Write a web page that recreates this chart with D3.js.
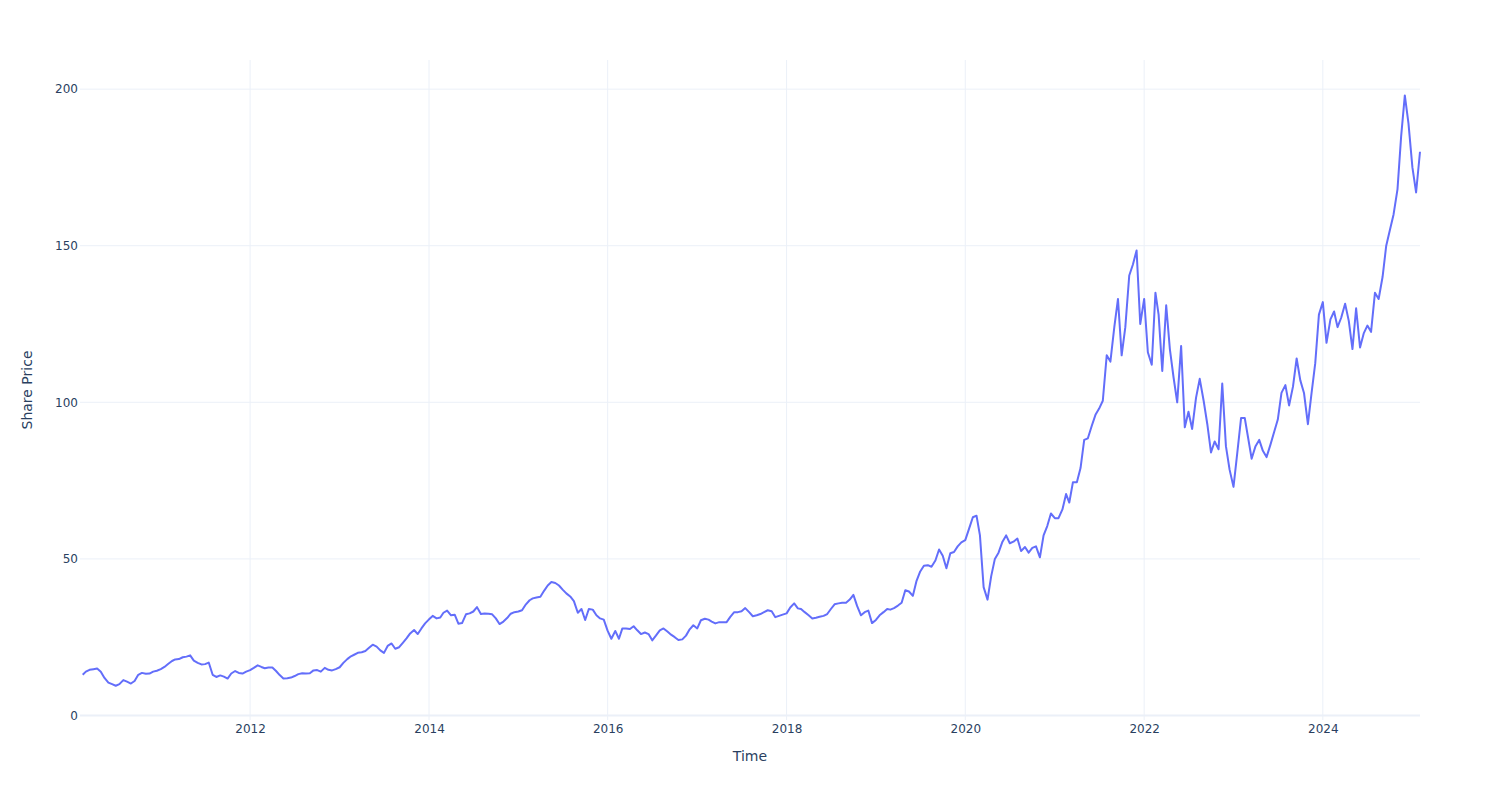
<!DOCTYPE html>
<html>
<head>
	<title>Share Price</title>
<script src="https://d3js.org/d3.v7.min.js" charset="utf-8"></script>
<style>
body { margin: 0; background: #fff; }
</style>
</head>
<body>
<div id="chart"></div>

<script type="text/javascript">
// share price, two readings per month (1st and 16th), one array per year
var years = [2010, 2011, 2012, 2013, 2014, 2015, 2016, 2017, 2018, 2019, 2020, 2021, 2022, 2023, 2024, 2025];
var firstSlot = [3, 0, 0, 0, 0, 0, 0, 0, 0, 0, 0, 0, 0, 0, 0, 0];

var p2010 = [13.0, 14.0, 14.6, 14.8, 15.0, 14.0, 12.0, 10.5, 10.0, 9.5, 10.0, 11.3, 10.8, 10.2, 11.0, 13.0, 13.6, 13.3, 13.4, 14.0, 14.3];
var p2011 = [14.8, 15.5, 16.5, 17.4, 17.9, 18.0, 18.6, 18.8, 19.2, 17.5, 16.8, 16.3, 16.4, 16.9, 13.0, 12.3, 12.8, 12.4, 11.8, 13.4, 14.2, 13.6, 13.4, 14.0];
var p2012 = [14.5, 15.2, 16.0, 15.5, 15.1, 15.3, 15.3, 14.2, 12.9, 11.8, 11.9, 12.1, 12.6, 13.2, 13.5, 13.4, 13.5, 14.4, 14.5, 14.0, 15.2, 14.6, 14.4, 14.8];
var p2013 = [15.4, 16.8, 18.0, 18.9, 19.4, 20.0, 20.2, 20.6, 21.6, 22.6, 22.0, 20.8, 20.0, 22.2, 23.0, 21.3, 21.8, 23.2, 24.6, 26.2, 27.3, 26.0, 27.8, 29.4];
var p2014 = [30.7, 31.8, 31.0, 31.3, 32.8, 33.5, 32.0, 32.2, 29.3, 29.5, 32.3, 32.6, 33.2, 34.6, 32.4, 32.6, 32.5, 32.3, 31.0, 29.2, 30.0, 31.1, 32.5, 33.0];
var p2015 = [33.2, 33.6, 35.5, 36.8, 37.4, 37.7, 37.9, 39.8, 41.5, 42.6, 42.3, 41.5, 40.2, 39.0, 38.0, 36.5, 32.8, 34.0, 30.5, 34.0, 33.8, 32.0, 31.0, 30.6];
var p2016 = [27.0, 24.5, 27.0, 24.5, 27.8, 27.8, 27.6, 28.5, 27.2, 26.0, 26.5, 26.0, 24.0, 25.5, 27.2, 27.8, 26.8, 25.8, 25.0, 24.1, 24.3, 25.5, 27.5, 28.8];
var p2017 = [27.8, 30.4, 30.9, 30.6, 30.0, 29.4, 29.8, 29.8, 29.8, 31.5, 33.0, 33.0, 33.3, 34.3, 33.0, 31.7, 32.0, 32.4, 33.0, 33.6, 33.3, 31.4, 31.8, 32.2];
var p2018 = [32.6, 34.5, 35.8, 34.2, 34.0, 33.0, 32.0, 31.0, 31.2, 31.5, 31.8, 32.4, 34.0, 35.5, 35.8, 36.0, 36.0, 37.0, 38.5, 35.0, 32.0, 33.0, 33.5, 29.5];
var p2019 = [30.5, 32.0, 33.0, 34.0, 33.8, 34.3, 35.1, 36.0, 40.0, 39.6, 38.2, 43.0, 46.0, 47.8, 48.0, 47.5, 49.5, 53.0, 51.0, 47.0, 51.8, 52.2, 54.0, 55.3];
var p2020 = [56.0, 59.5, 63.3, 63.8, 57.5, 41.0, 37.0, 44.5, 50.0, 52.0, 55.5, 57.5, 55.0, 55.5, 56.5, 52.5, 53.8, 52.0, 53.5, 54.0, 50.5, 57.5, 60.5, 64.5];
var p2021 = [63.0, 63.0, 65.8, 70.7, 68.0, 74.5, 74.5, 79.0, 88.0, 88.5, 92.5, 96.0, 98.0, 100.5, 115.0, 113.0, 124.0, 133.0, 115.0, 124.0, 140.5, 144.0, 148.5, 125.0];
var p2022 = [133.0, 116.0, 112.0, 135.0, 128.0, 110.0, 131.0, 117.0, 108.0, 100.0, 118.0, 92.0, 97.0, 91.5, 101.5, 107.5, 100.5, 93.0, 84.0, 87.5, 85.0, 106.0, 86.0, 78.5];
var p2023 = [73.0, 83.5, 95.0, 95.0, 89.0, 82.0, 86.0, 88.0, 84.5, 82.5, 86.5, 90.5, 94.5, 103.0, 105.5, 99.0, 105.0, 114.0, 107.0, 103.0, 93.0, 103.0, 112.5, 128.0];
var p2024 = [132.0, 119.0, 126.5, 129.0, 124.0, 127.0, 131.5, 126.0, 117.0, 130.0, 117.5, 122.0, 124.5, 122.5, 135.0, 133.0, 140.0, 150.0, 155.0, 160.0, 168.0, 185.0, 198.0, 189.0];
var p2025 = [175.0, 167.0, 180.0];

var yearPrices = [p2010, p2011, p2012, p2013, p2014, p2015, p2016, p2017, p2018, p2019, p2020, p2021, p2022, p2023, p2024, p2025];
var yTicks = [0, 50, 100, 150, 200];

var font = "'DejaVu Sans', Verdana, Arial, sans-serif",
    textColor = '#2a3f5f',
    gridColor = '#EBF0F8';

// flatten the yearly arrays into {date, value}
var data = [];
years.forEach(function(yr, i) {
    yearPrices[i].forEach(function(v, j) {
        var slot = firstSlot[i] + j;
        data.push({ date: new Date(yr, Math.floor(slot / 2), slot % 2 ? 16 : 1), value: v });
    });
});

var width = 1500,
    height = 800,
    plotLeft = 80, plotRight = 1420, plotTop = 60, plotBottom = 720;

var svg = d3.select('#chart').append('svg')
    .attr('width', width)
    .attr('height', height)
    .style('font-family', font);

var x = d3.scaleTime()
    .domain([new Date(2010, 1, 5), data[data.length - 1].date])
    .range([plotLeft, plotRight]);

var y = d3.scaleLinear()
    .domain([-1.44, 209.3])
    .range([plotBottom, plotTop]);

// grid
svg.append('g').selectAll('line')
    .data(x.ticks(d3.timeYear.every(2)))
    .enter().append('line')
    .attr('x1', function(d) { return x(d); })
    .attr('x2', function(d) { return x(d); })
    .attr('y1', plotTop).attr('y2', plotBottom)
    .attr('stroke', gridColor).attr('stroke-width', 1);

svg.append('g').selectAll('line')
    .data(yTicks.filter(function(d) { return d != 0; }))
    .enter().append('line')
    .attr('x1', plotLeft).attr('x2', plotRight)
    .attr('y1', function(d) { return y(d); })
    .attr('y2', function(d) { return y(d); })
    .attr('stroke', gridColor).attr('stroke-width', 1);

// zero line
svg.append('line')
    .attr('x1', plotLeft).attr('x2', plotRight)
    .attr('y1', y(0)).attr('y2', y(0))
    .attr('stroke', gridColor).attr('stroke-width', 2);

// axes (labels only, plotly style)
var xAxis = svg.append('g')
    .attr('transform', 'translate(0,' + plotBottom + ')')
    .call(d3.axisBottom(x).ticks(d3.timeYear.every(2)).tickFormat(d3.timeFormat('%Y')).tickSize(0).tickPadding(4.5));
xAxis.select('.domain').remove();
xAxis.selectAll('text').attr('fill', textColor).style('font-size', '12px').style('font-family', font);

var yAxis = svg.append('g')
    .attr('transform', 'translate(' + (plotLeft - 2) + ',0)')
    .call(d3.axisLeft(y).tickValues(yTicks).tickSize(0).tickPadding(0));
yAxis.select('.domain').remove();
yAxis.selectAll('text').attr('fill', textColor).style('font-size', '12px').style('font-family', font);

// the price line
var line = d3.line()
    .x(function(d) { return x(d.date); })
    .y(function(d) { return y(d.value); });

svg.append('path')
    .datum(data)
    .attr('d', line)
    .attr('fill', 'none')
    .attr('stroke', '#636efa')
    .attr('stroke-width', 2)
    .attr('stroke-linejoin', 'round');

// titles
svg.append('text')
    .attr('x', (plotLeft + plotRight) / 2)
    .attr('y', 761)
    .attr('text-anchor', 'middle')
    .attr('fill', textColor)
    .style('font-size', '14px')
    .text('Time');

svg.append('text')
    .attr('transform', 'translate(31.5,' + (plotTop + plotBottom) / 2 + ') rotate(-90)')
    .attr('text-anchor', 'middle')
    .attr('fill', textColor)
    .style('font-size', '14px')
    .text('Share Price');
</script>
</body>
</html>
